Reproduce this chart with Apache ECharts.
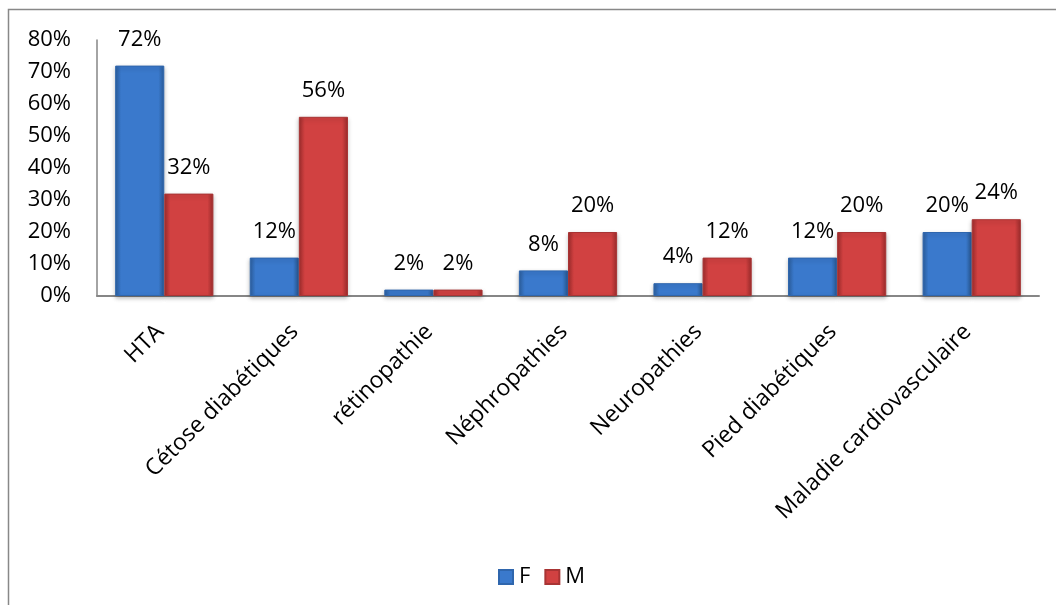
<!DOCTYPE html>
<html>
<head>
<meta charset="utf-8">
<script src="https://cdn.jsdelivr.net/npm/echarts@6/dist/echarts.min.js"></script>
<style>
  html, body { margin: 0; padding: 0; background: #fff; }
  #chart { width: 1056px; height: 605px; }
</style>
</head>
<body>
<div id="chart"></div>
<script>
// Complications by sex (percent of patients)
const categories = ['HTA', 'Cétose diabétiques', 'rétinopathie', 'Néphropathies', 'Neuropathies', 'Pied diabétiques', 'Maladie cardiovasculaire'];
const valuesF = [72, 12, 2, 8, 4, 12, 20];
const valuesM = [32, 56, 2, 20, 12, 20, 24];
const yTicks = [0, 10, 20, 30, 40, 50, 60, 70, 80];

const FONT = '"Open Sans", sans-serif';
const FS = 22;

function bevel(edge, mid) {
  return {
    type: 'linear', x: 0, y: 0, x2: 1, y2: 0,
    colorStops: [
      { offset: 0, color: edge },
      { offset: 0.12, color: mid },
      { offset: 0.88, color: mid },
      { offset: 1, color: edge }
    ]
  };
}

const labelStyle = {
  show: true,
  position: 'top',
  distance: 15,
  formatter: p => p.value + '%',
  color: '#000',
  fontFamily: FONT,
  fontSize: FS
};

const chart = echarts.init(document.getElementById('chart'));
chart.setOption({
  animation: false,
  backgroundColor: '#fff',
  graphic: [{
    type: 'rect',
    shape: { x: 8.5, y: 9.5, width: 1200, height: 800 },
    style: { fill: 'none', stroke: '#888', lineWidth: 1.5 },
    silent: true
  }],
  grid: { left: 97, right: 17, top: 40, bottom: 309, containLabel: false },
  legend: {
    bottom: 12,
    left: 493,
    itemWidth: 14,
    itemHeight: 14,
    itemGap: 14,
    icon: 'rect',
    textStyle: { color: '#000', fontFamily: FONT, fontSize: FS, padding: [0, 0, 0, 1] },
    data: ['F', 'M']
  },
  xAxis: {
    type: 'category',
    data: categories,
    axisLine: { lineStyle: { color: '#868686', width: 2 } },
    axisTick: { show: false },
    axisLabel: {
      interval: 0,
      rotate: 45,
      margin: 28,
      padding: [0, 6, 0, 0],
      color: '#000',
      fontFamily: FONT,
      fontSize: 23
    }
  },
  yAxis: {
    type: 'value',
    min: yTicks[0],
    max: yTicks[yTicks.length - 1],
    interval: 10,
    axisLine: { show: true, lineStyle: { color: '#868686', width: 1.5 } },
    axisTick: { show: false },
    splitLine: { show: false },
    axisLabel: {
      margin: 26,
      formatter: v => v + '%',
      color: '#000',
      fontFamily: FONT,
      fontSize: FS
    }
  },
  series: [
    {
      name: 'F',
      type: 'bar',
      data: valuesF,
      barCategoryGap: '27%',
      barGap: '0%',
      itemStyle: {
        color: bevel('#2c5f9e', '#3a79cc'),
        borderColor: '#2f66ad',
        borderWidth: 1,
        shadowColor: 'rgba(0,0,0,0.25)',
        shadowBlur: 4,
        shadowOffsetY: 2
      },
      label: labelStyle
    },
    {
      name: 'M',
      type: 'bar',
      data: valuesM,
      barCategoryGap: '27%',
      barGap: '0%',
      itemStyle: {
        color: bevel('#9e2c2c', '#d14141'),
        borderColor: '#a83434',
        borderWidth: 1,
        shadowColor: 'rgba(0,0,0,0.25)',
        shadowBlur: 4,
        shadowOffsetY: 2
      },
      label: labelStyle
    }
  ]
});
</script>
</body>
</html>
